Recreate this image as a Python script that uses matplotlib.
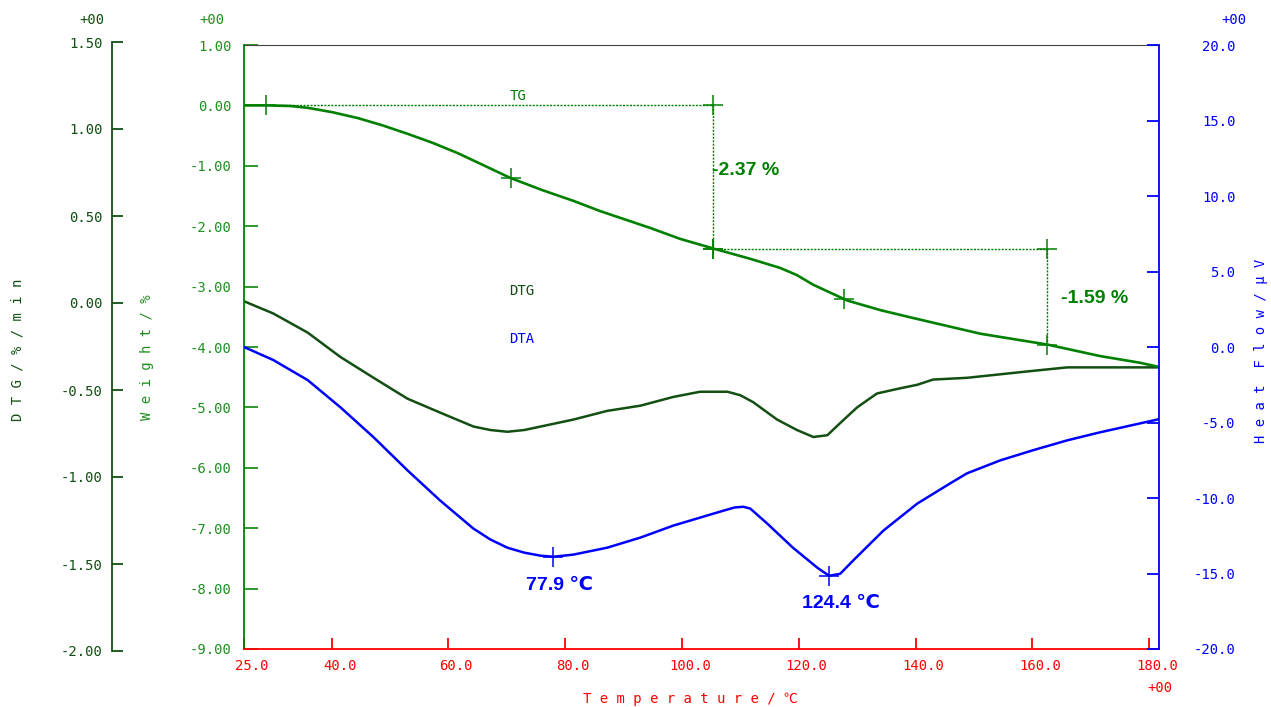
import matplotlib
matplotlib.use('Agg')
import matplotlib.pyplot as plt
from matplotlib.transforms import ScaledTranslation

# ---------------- data ----------------
tg_temp = [25.0, 29.0, 33.0, 35.9, 40.0, 44.5, 48.7, 53.0, 57.3, 61.6, 66.0, 70.6, 76.0,
           81.4, 86.0, 94.6, 99.7, 105.4, 111.7, 116.8, 119.7, 122.5, 125.4, 128.3, 134.0,
           139.6, 151.1, 162.6, 171.6, 178.4, 181.7]
tg_weight = [0.0, 0.0, -0.01, -0.04, -0.11, -0.21, -0.33, -0.47, -0.62, -0.79, -0.99, -1.20,
             -1.40, -1.58, -1.75, -2.03, -2.21, -2.37, -2.54, -2.69, -2.81, -2.97, -3.10,
             -3.23, -3.39, -3.52, -3.78, -3.96, -4.15, -4.26, -4.33]

dtg_temp = [25.0, 30.0, 35.9, 41.5, 47.2, 53.0, 58.6, 64.3, 67.2, 70.1, 73.0, 75.8, 81.4,
            87.2, 92.9, 98.5, 103.1, 105.4, 107.8, 110.0, 112.2, 116.3, 119.7, 122.5, 124.9,
            127.1, 130.0, 133.4, 137.4, 140.3, 143.0, 148.8, 160.1, 166.0, 171.6, 181.7]
dtg_vals = [0.01, -0.06, -0.17, -0.31, -0.43, -0.55, -0.63, -0.71, -0.73, -0.74, -0.73,
            -0.71, -0.67, -0.62, -0.59, -0.54, -0.51, -0.51, -0.51, -0.53, -0.57, -0.67,
            -0.73, -0.77, -0.76, -0.69, -0.60, -0.52, -0.49, -0.47, -0.44, -0.43, -0.39,
            -0.37, -0.37, -0.37]

dta_temp = [25.0, 30.0, 35.9, 41.5, 47.2, 53.0, 58.6, 64.3, 67.2, 70.1, 73.0, 75.8, 78.0,
            81.4, 87.2, 92.9, 98.5, 103.1, 107.0, 109.0, 110.5, 111.7, 114.6, 119.0, 123.2,
            125.2, 127.1, 129.3, 134.5, 140.3, 145.9, 148.8, 154.5, 160.1, 166.0, 171.6,
            181.7]
dta_vals = [0.0, -0.86, -2.19, -3.99, -5.98, -8.17, -10.17, -12.03, -12.75, -13.29, -13.62,
            -13.82, -13.89, -13.75, -13.29, -12.62, -11.83, -11.30, -10.85, -10.63, -10.58,
            -10.70, -11.69, -13.29, -14.62, -15.15, -15.02, -14.15, -12.16, -10.37, -9.04,
            -8.37, -7.51, -6.84, -6.18, -5.65, -4.78]

# TG step analysis
step_start_temp = [28.7, 105.4]
step_end_temp = [105.4, 162.6]
step_start_w = [0.0, -2.37]
step_end_w = [-2.37, -3.96]
step_labels = ['-2.37 %', '-1.59 %']
tg_infl_temp = [70.8, 127.8]
tg_infl_w = [-1.20, -3.20]

# DTA peaks
dta_peak_temp = [78.0, 125.2]
dta_peak_val = [-13.89, -15.15]
dta_peak_labels = ['77.9 ℃', '124.4 ℃']

# ticks
x_ticks = [25, 40, 60, 80, 100, 120, 140, 160, 180]
x_ticklabels = ['25.0', '40.0', '60.0', '80.0', '100.0', '120.0', '140.0', '160.0', '180.0']
w_ticks = [1, 0, -1, -2, -3, -4, -5, -6, -7, -8, -9]
w_ticklabels = ['1.00', '0.00', '-1.00', '-2.00', '-3.00', '-4.00', '-5.00', '-6.00',
                '-7.00', '-8.00', '-9.00']
dtg_ticks = [1.5, 1.0, 0.5, 0.0, -0.5, -1.0, -1.5, -2.0]
dtg_ticklabels = ['1.50', '1.00', '0.50', '0.00', '-0.50', '-1.00', '-1.50', '-2.00']
hf_ticks = [20, 15, 10, 5, 0, -5, -10, -15, -20]
hf_ticklabels = ['20.0', '15.0', '10.0', '5.0', '0.0', '-5.0', '-10.0', '-15.0', '-20.0']

# ---------------- style ----------------
W, H = 1271, 707
MONO = ['DejaVu Sans Mono', 'Noto Sans CJK JP']
BOLD = ['Liberation Sans', 'DejaVu Sans']
plt.rcParams['font.family'] = MONO
C_TG = '#008000'
C_WT = '#1f8f1f'
C_DTG = '#134f13'
C_BLUE = '#0000ff'
C_RED = '#ff0000'
DOT = (0, (1.5, 1))

fig = plt.figure(figsize=(W / 100, H / 100), dpi=100)


def px_rect(l, t, r, b):
    return [l / W, 1 - b / H, (r - l) / W, (b - t) / H]


XL = (25, 181.7)

# DTG axes (separate scale at far left)
axd = fig.add_axes(px_rect(244, 42, 1159, 651))
axd.patch.set_visible(False)
axd.set_xlim(*XL)
axd.set_ylim(-2.0, 1.5)
for s in ['top', 'right', 'bottom']:
    axd.spines[s].set_visible(False)
axd.spines['left'].set_position(('axes', (112 - 244) / (1159 - 244)))
axd.spines['left'].set_color(C_DTG)
axd.spines['left'].set_linewidth(1.3)
axd.set_xticks([])
axd.set_yticks(dtg_ticks)
axd.set_yticklabels(dtg_ticklabels)
axd.tick_params(axis='y', direction='in', length=8, width=1.3, colors=C_DTG, pad=6.5,
                labelsize=10)
axd.plot(dtg_temp, dtg_vals, color=C_DTG, lw=1.8, zorder=3)

# Main (weight) axes
ax = fig.add_axes(px_rect(244, 45, 1159, 649))
ax.patch.set_visible(False)
ax.set_xlim(*XL)
ax.set_ylim(-9, 1)
ax.spines['left'].set_color(C_TG)
ax.spines['left'].set_linewidth(1.3)
ax.spines['bottom'].set_color(C_RED)
ax.spines['bottom'].set_linewidth(1.3)
ax.spines['top'].set_color('#444444')
ax.spines['right'].set_visible(False)
ax.set_yticks(w_ticks)
ax.set_yticklabels(w_ticklabels)
ax.tick_params(axis='y', direction='in', length=10, width=1.3, colors=C_WT, pad=9,
               labelsize=10, right=False)
ax.set_xticks(x_ticks)
ax.set_xticklabels(x_ticklabels)
ax.tick_params(axis='x', direction='in', length=8, width=1.3, colors=C_RED, pad=7,
               labelsize=10, top=False)
for lbl in ax.get_xticklabels():
    lbl.set_transform(lbl.get_transform() + ScaledTranslation(8 / 100, 0, fig.dpi_scale_trans))

# TG step lines
ax.plot([XL[0], step_end_temp[0]], [step_start_w[0], step_start_w[0]], color=C_TG, lw=1.0,
        ls=DOT, zorder=2)
for i in range(len(step_labels)):
    if i > 0:
        ax.plot([step_start_temp[i], step_end_temp[i]], [step_start_w[i], step_start_w[i]],
                color=C_TG, lw=1.0, ls=DOT, zorder=2)
    ax.plot([step_end_temp[i], step_end_temp[i]], [step_start_w[i], step_end_w[i]],
            color=C_TG, lw=1.0, ls=DOT, zorder=2)

ax.plot(tg_temp, tg_weight, color=C_TG, lw=1.9, zorder=4)

ax.plot(step_start_temp + step_end_temp, step_start_w + step_end_w, ls='none', marker='+',
        ms=15, mew=1.1, color=C_TG, zorder=5)
ax.plot([step_end_temp[0], step_end_temp[1]], [step_start_w[0], step_start_w[1]], ls='none',
        marker='+', ms=15, mew=1.1, color=C_TG, zorder=5)
ax.plot(tg_infl_temp, tg_infl_w, ls='none', marker='+', ms=15, mew=1.1, color=C_TG, zorder=5)

step_offsets = [(-1, 6), (14, -2)]
for i, lab in enumerate(step_labels):
    ax.annotate(lab, xy=(step_end_temp[i], (step_start_w[i] + step_end_w[i]) / 2),
                xytext=step_offsets[i], textcoords='offset pixels', ha='left', va='center',
                color=C_TG, fontsize=14, fontweight='bold', family=BOLD, zorder=6)

# curve labels
ax.text(72.0, 0.15, 'TG', color=C_TG, fontsize=10, ha='center', va='center')
ax.text(70.4, -3.08, 'DTG', color=C_DTG, fontsize=10, ha='left', va='center')
ax.text(70.4, -3.86, 'DTA', color=C_BLUE, fontsize=10, ha='left', va='center')

# Heat flow axes
axr = ax.twinx()
axr.set_xlim(*XL)
axr.set_ylim(-20, 20)
for s in ['top', 'left', 'bottom']:
    axr.spines[s].set_visible(False)
axr.spines['right'].set_color(C_BLUE)
axr.spines['right'].set_linewidth(1.3)
axr.set_yticks(hf_ticks)
axr.set_yticklabels(hf_ticklabels, ha='right')
axr.tick_params(axis='y', direction='in', length=9, width=1.3, colors=C_BLUE, pad=55,
                labelsize=10)
axr.plot(dta_temp, dta_vals, color=C_BLUE, lw=1.8, zorder=3)
axr.plot(dta_peak_temp, dta_peak_val, ls='none', marker='+', ms=15, mew=1.1, color=C_BLUE,
         zorder=5)
peak_offsets = [(-27, -29), (-27, -28)]
for i, lab in enumerate(dta_peak_labels):
    axr.annotate(lab, xy=(dta_peak_temp[i], dta_peak_val[i]), xytext=peak_offsets[i],
                 textcoords='offset pixels', ha='left', va='center', color=C_BLUE,
                 fontsize=14, fontweight='bold', family=BOLD)

# exponent markers and axis titles
fig.text(92 / W, 1 - 20 / H, '+00', color=C_DTG, fontsize=10, ha='center', va='center')
fig.text(212 / W, 1 - 20 / H, '+00', color=C_WT, fontsize=10, ha='center', va='center')
fig.text(1234 / W, 1 - 20 / H, '+00', color=C_BLUE, fontsize=10, ha='center', va='center')
fig.text(1160 / W, 1 - 688 / H, '+00', color=C_RED, fontsize=10, ha='center', va='center')

fig.text(18 / W, 1 - 350 / H, 'D T G / % / m i n', color=C_DTG, fontsize=10, rotation=90,
         ha='center', va='center')
fig.text(147 / W, 1 - 357 / H, 'W e i g h t / %', color=C_WT, fontsize=10, rotation=90,
         ha='center', va='center')
fig.text(1261 / W, 1 - 351 / H, 'H e a t  F l o w / μ V', color=C_BLUE, fontsize=10,
         rotation=90, ha='center', va='center')
fig.text(690 / W, 1 - 699 / H, 'T e m p e r a t u r e / ℃', color=C_RED, fontsize=10,
         ha='center', va='center')

fig.savefig('out.png', dpi=100)
